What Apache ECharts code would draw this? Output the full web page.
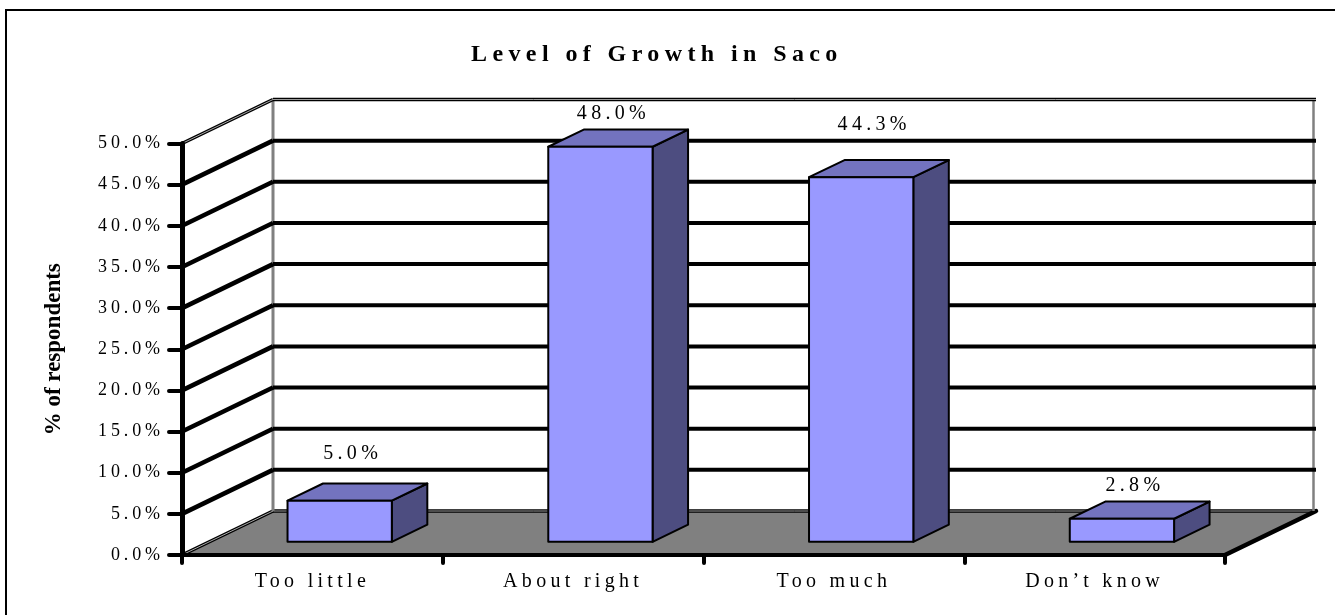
<!DOCTYPE html>
<html><head><meta charset="utf-8">
<style>html,body{margin:0;padding:0;background:#fff}#c{width:1335px;height:615px}</style>
<script src="https://cdn.jsdelivr.net/npm/echarts@6/dist/echarts.min.js"></script>
</head><body><div id="c"></div>
<script>
const categories = ["Too little", "About right", "Too much", "Don\u2019t know"];
const values = [5.0, 48.0, 44.3, 2.8];
const yTicks = [0, 5, 10, 15, 20, 25, 30, 35, 40, 45, 50];
const titleText = "Level of Growth in Saco";
const yName = "% of respondents";

// letter tracking by font size (the source chart has widely tracked text)
const tracking = { 24: 5.4, 23: 0, 18: 3.9, 20: 4.3 };
const origFill = CanvasRenderingContext2D.prototype.fillText;
CanvasRenderingContext2D.prototype.fillText = function (t, x, y, m) {
  const match = /(\d+)px/.exec(this.font);
  this.letterSpacing = ((match && tracking[match[1]]) || 0) + 'px';
  return m === undefined ? origFill.call(this, t, x, y) : origFill.call(this, t, x, y, m);
};

const DX = 91, DY = -44;
const SERIF = '"Liberation Serif","Times New Roman",serif';
const shift = (p, d) => [p[0] + DX * d, p[1] + DY * d];
const line = (a, b, stroke, lineWidth, cap) => ({
  type: 'line',
  shape: { x1: a[0], y1: a[1], x2: b[0], y2: b[1] },
  style: { stroke, lineWidth, lineCap: cap || 'butt' }
});
// left and right ends of the category axis at a given value
function ends(api, v) {
  const half = api.size([1, 0])[0] / 2;
  const p0 = api.coord([0, v]), p1 = api.coord([categories.length - 1, v]);
  return [[p0[0] - half, p0[1]], [p1[0] + half, p1[1]]];
}

function renderFloor(params, api) {
  const [a, b] = ends(api, 0);
  const rect = [a, b, shift(b, 1), shift(a, 1)];
  return { type: 'group', children: [
    { type: 'polygon', shape: { points: rect }, style: { fill: '#808080' } },
    line(shift(a, 1), shift(b, 1), '#000', 3.5),
    line(shift(a, 1), shift(b, 1), '#999', 1),
    line(a, shift(a, 1), '#000', 3.5),
    line(a, shift(a, 1), '#aaa', 1),
    line(b, shift(b, 1), '#000', 4.5, 'round')
  ]};
}
function renderWall(params, api) {
  const v = api.value(0);
  const [a, b] = ends(api, v);
  const kids = [];
  if (v === 0) {
    const [ta, tb] = ends(api, 50);
    const nudge = p => { const q = shift(p, 1); return [q[0] - 2.5, q[1]]; };
    kids.push(line(shift(a, 1), shift(ta, 1), '#808080', 3));
    kids.push(line(nudge(b), nudge(tb), '#808080', 2.5));
  } else if (v === 50) {
    kids.push(line(a, shift(a, 1), '#000', 3.5));
    kids.push(line(a, shift(a, 1), '#aaa', 1));
    kids.push(line(shift(a, 1), shift(b, 1), '#000', 3.5));
    kids.push(line(shift(a, 1), shift(b, 1), '#999', 1));
  } else {
    kids.push(line(a, shift(a, 1), '#000', 4.5));
    kids.push(line(shift(a, 1), shift(b, 1), '#000', 4));
  }
  return { type: 'group', children: kids };
}
const BAR_START = 0.30, BAR_DEPTH = 0.39, BAR_W = 0.4;
const labelLift = [30, 16, 35, 16];
function renderBar(params, api) {
  const i = api.value(0), v = api.value(1);
  const w = api.size([1, 0])[0] * BAR_W;
  const c0 = api.coord([i, 0]), c1 = api.coord([i, v]);
  const base = shift([c0[0] - w / 2, c0[1]], BAR_START);
  const top = shift([c1[0] - w / 2, c1[1]], BAR_START);
  const fl = top, fr = [top[0] + w, top[1]], br = [base[0] + w, base[1]], bl = base;
  const tl2 = shift(fl, BAR_DEPTH), tr2 = shift(fr, BAR_DEPTH), br2 = shift(br, BAR_DEPTH);
  const s = { stroke: '#000', lineWidth: 2, lineJoin: 'round' };
  return { type: 'group', children: [
    { type: 'polygon', shape: { points: [fr, tr2, br2, br] }, style: { fill: '#4D4D80', ...s } },
    { type: 'polygon', shape: { points: [fl, tl2, tr2, fr] }, style: { fill: '#7373BF', ...s } },
    { type: 'polygon', shape: { points: [fl, fr, br, bl] }, style: { fill: '#9999FF', ...s } },
    { type: 'text', style: {
        text: v.toFixed(1) + '%',
        x: fl[0] + w / 2 + 13, y: tr2[1] - labelLift[i],
        align: 'center', verticalAlign: 'middle',
        font: '20px ' + SERIF, fill: '#000' } }
  ]};
}

const chart = echarts.init(document.getElementById('c'), null, { renderer: 'canvas' });
chart.setOption({
  animation: false,
  backgroundColor: '#fff',
  title: {
    text: titleText, left: 466, top: 38,
    textStyle: { fontFamily: SERIF, fontSize: 24, fontWeight: 'bold', color: '#000' }
  },
  graphic: [
    { type: 'line', shape: { x1: 6, y1: 10, x2: 6, y2: 615 }, style: { stroke: '#000', lineWidth: 2 }, silent: true },
    { type: 'line', shape: { x1: 5, y1: 10, x2: 1335, y2: 10 }, style: { stroke: '#000', lineWidth: 2 }, silent: true }
  ],
  grid: { left: 182, right: 110, top: 143.5, bottom: 60 },
  xAxis: {
    type: 'category', data: categories,
    axisLine: { onZero: true, lineStyle: { color: '#000', width: 4 } },
    axisTick: { show: true, alignWithLabel: false, length: 8, lineStyle: { color: '#000', width: 4, cap: 'round' } },
    axisLabel: { fontFamily: SERIF, fontSize: 20, color: '#000', margin: 17 },
    splitLine: { show: false }, z: 5
  },
  yAxis: {
    type: 'value', min: 0, max: 50, interval: 5,
    name: yName, nameLocation: 'middle', nameGap: 116, nameRotate: 90,
    nameTextStyle: { fontFamily: SERIF, fontSize: 23, fontWeight: 'bold', color: '#000' },
    axisLine: { show: true, lineStyle: { color: '#000', width: 5 } },
    axisTick: { show: true, length: 13, lineStyle: { color: '#000', width: 4, cap: 'round' } },
    axisLabel: { fontFamily: SERIF, fontSize: 18, color: '#000', margin: 18, padding: [3, 0, 0, 0], formatter: v => v.toFixed(1) + '%' },
    splitLine: { show: false }, z: 5
  },
  series: [
    { type: 'custom', renderItem: renderFloor, data: [[0]], z: 1, silent: true, clip: false },
    { type: 'custom', renderItem: renderWall, data: yTicks.map(v => [v]), encode: { y: 0 }, z: 2, silent: true, clip: false },
    { type: 'custom', renderItem: renderBar, data: values.map((v, i) => [i, v]), encode: { x: 0, y: 1 }, z: 3, silent: true, clip: false }
  ]
});
</script></body></html>
